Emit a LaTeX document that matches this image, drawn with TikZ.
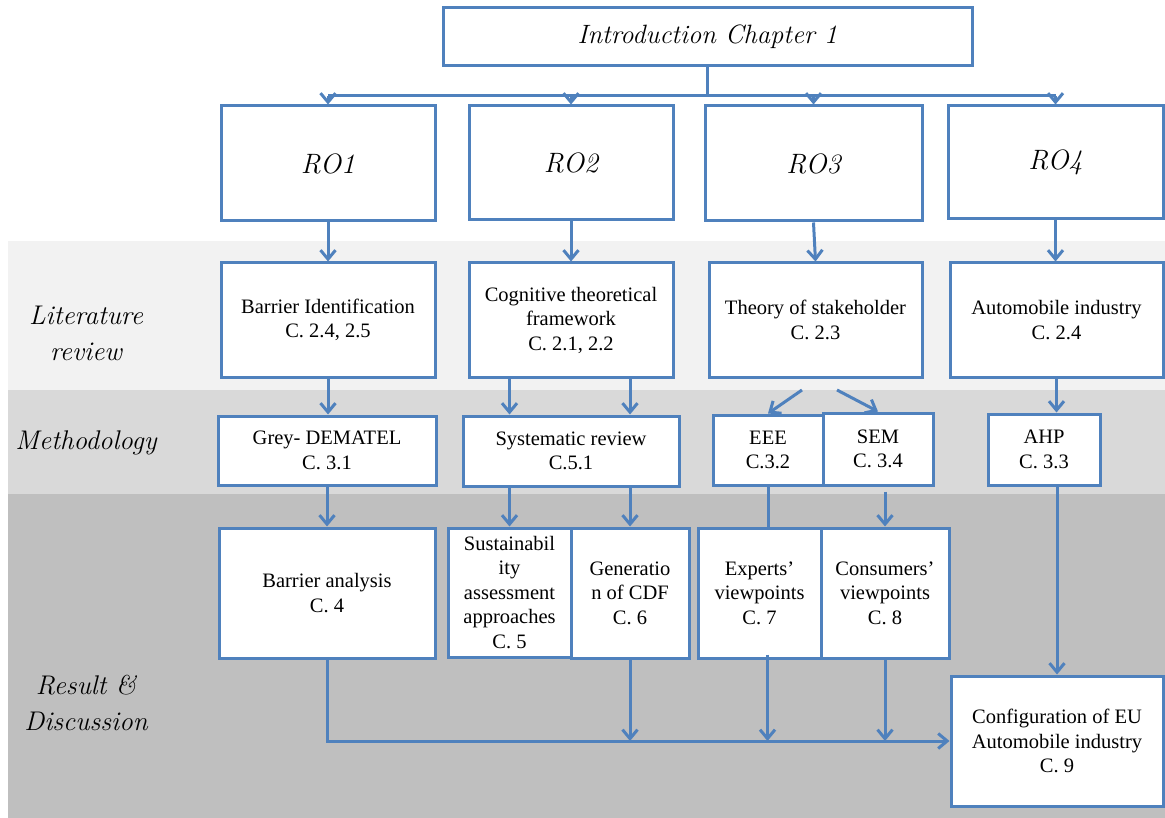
\documentclass[tikz,border=0pt]{standalone}
\usepackage{fontspec}
\newfontfamily\tnr{Liberation Serif}
\usetikzlibrary{arrows.meta}
\definecolor{cblue}{RGB}{79,129,189}
\definecolor{bandA}{RGB}{242,242,242}
\definecolor{bandB}{RGB}{217,217,217}
\definecolor{bandC}{RGB}{191,191,191}
\tikzset{
  box/.style={draw=cblue, line width=3pt, fill=white, align=center, inner sep=2pt,
    font=\tnr\fontsize{20.5}{24.5}\selectfont},
  titlebox/.style={box, font=\itshape\fontsize{26.5}{32}\selectfont},
  rowlabel/.style={align=center, font=\itshape\fontsize{27}{36}\selectfont},
  link/.style={draw=cblue, line width=3pt},
  arr/.style={link, -{Straight Barb[length=9pt,width=15pt]}},
}
\begin{document}
\begin{tikzpicture}[x=1pt,y=-1pt]
\useasboundingbox (0,0) rectangle (1165,818);
% row bands
\fill[bandA] (8,241) rectangle (1165,390);
\fill[bandB] (8,390) rectangle (1165,494);
\fill[bandC] (8,494) rectangle (1165,818);

% row labels
\node[rowlabel] (lablit) at (86,333) {Literature\\review};
\node[rowlabel] (labmeth) at (86,443) {Methodology};
\node[rowlabel] (labres) at (86,703) {Result \&\\Discussion};

% top
\node[titlebox, minimum width=529pt, minimum height=58pt] (intro) at (707.5,37) {Introduction Chapter 1};

% research objectives
\node[titlebox, font=\itshape\fontsize{28}{32}\selectfont, minimum width=214pt, minimum height=115pt] (ro1) at (328,163.5) {RO1};
\node[titlebox, font=\itshape\fontsize{28}{32}\selectfont, minimum width=204pt, minimum height=114pt] (ro2) at (571,163) {RO2};
\node[titlebox, font=\itshape\fontsize{28}{32}\selectfont, minimum width=217pt, minimum height=115pt] (ro3) at (813.5,163.5) {RO3};
\node[titlebox, font=\itshape\fontsize{28}{32}\selectfont, minimum width=215pt, minimum height=113pt] (ro4) at (1055.5,162.5) {RO4};

% literature review
\node[box, minimum width=214pt, minimum height=114pt] (lit1) at (328,320) {Barrier Identification\\C. 2.4, 2.5};
\node[box, minimum width=204pt, minimum height=114pt] (lit2) at (571,320) {Cognitive theoretical\\framework\\C. 2.1, 2.2};
\node[box, minimum width=213pt, minimum height=114pt] (lit3) at (815.5,320) {Theory of stakeholder\\C. 2.3};
\node[box, minimum width=213pt, minimum height=114pt] (lit4) at (1056.5,320) {Automobile industry\\C. 2.4};

% methodology
\node[box, minimum width=218pt, minimum height=69pt] (m1) at (327,450.5) {Grey- DEMATEL\\C. 3.1};
\node[box, minimum width=216pt, minimum height=70pt] (m2) at (571,451) {Systematic review\\C.5.1};
\node[box, minimum width=110pt, minimum height=70pt] (m3) at (768,450) {EEE\\C.3.2};
\node[box, minimum width=110pt, minimum height=72pt] (m4) at (878,449) {SEM\\C. 3.4};
\node[box, minimum width=112pt, minimum height=71pt] (m5) at (1044,449.5) {AHP\\C. 3.3};

% results
\node[box, minimum width=216pt, minimum height=130pt] (r1) at (327,593) {Barrier analysis\\C. 4};
\node[box, minimum width=123pt, minimum height=129pt] (r2) at (509.5,592.5) {Sustainabil\\ity\\assessment\\approaches\\C. 5};
\node[box, minimum width=118pt, minimum height=130pt] (r3) at (630,593) {Generatio\\n of CDF\\C. 6};
\node[box, minimum width=123pt, minimum height=130pt] (r4) at (759.5,593) {Experts’\\viewpoints\\C. 7};
\node[box, minimum width=128pt, minimum height=130pt] (r5) at (885,593) {Consumers’\\viewpoints\\C. 8};
\node[box, minimum width=212pt, minimum height=130pt] (r6) at (1057,741) {Configuration of EU\\Automobile industry\\C. 9};

% intro to objectives
\coordinate (bus) at (709,96);
\draw[link] (intro.south) -- (intro.south |- bus);
\draw[link] (ro1.north |- bus) -- (ro4.north |- bus);
\foreach \n in {ro1,ro2,ro3,ro4}
  \draw[arr] (\n.north |- bus) -- (\n.north);

% objectives to literature
\draw[arr] (ro1.south) -- (ro1.south |- lit1.north);
\draw[arr] (ro2.south) -- (lit2.north);
\draw[arr] (ro3.south) -- (lit3.north);
\draw[arr] (ro4.south) -- (ro4.south |- lit4.north);

% literature to methodology
\draw[arr] (lit1.south) -- (lit1.south |- m1.north);
\draw[arr] (r2.north |- lit2.south) -- (r2.north |- m2.north);
\draw[arr] (r3.north |- lit2.south) -- (r3.north |- m2.north);
\coordinate (sa) at (802,390);
\coordinate (sb) at (837,390);
\draw[arr] (sa) -- (m3.north);
\draw[arr] (sb) -- (m4.north);
\draw[arr] (lit4.south) -- (lit4.south |- m5.north);

% methodology to results
\draw[arr] (m1.south) -- (m1.south |- r1.north);
\draw[arr] (r2.north |- m2.south) -- (r2.north);
\draw[arr] (r3.north |- m2.south) -- (r3.north);
\draw[link] (m3.south) -- (m3.south |- r4.north);
\draw[arr] ([yshift=-5pt]r5.north |- m4.south) -- (r5.north);
\draw[arr] (r6.north |- m5.south) -- (r6.north);

% results to configuration
\draw[arr] (r1.south) |- (r6.west);
\draw[arr] (r3.south) -- (r3.south |- r6.west);
\draw[arr] ([xshift=8pt,yshift=5pt]r4.south) -- ([xshift=8pt]r4.south |- r6.west);
\draw[arr] (r5.south) -- (r5.south |- r6.west);
\end{tikzpicture}
\end{document}
